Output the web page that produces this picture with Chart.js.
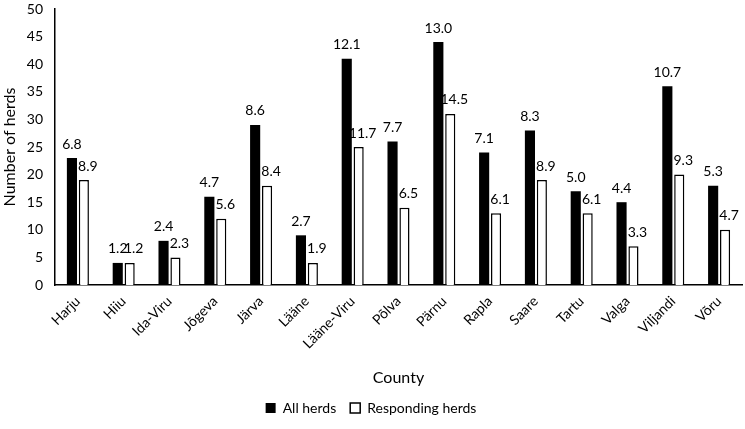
<!DOCTYPE html>
<html>
<head>
<meta charset="utf-8">
<script src="https://cdn.jsdelivr.net/npm/chart.js@4/dist/chart.umd.min.js"></script>
<style>
    html, body { margin: 0; padding: 0; background: #fff; }
    #wrap { width: 745px; height: 429px; }
</style>
</head>
<body>
<div id="wrap"><canvas id="chart"></canvas></div>
<script>
// counties and herd counts
const counties = ['Harju', 'Hiiu', 'Ida-Viru', 'Jõgeva', 'Järva', 'Lääne', 'Lääne-Viru', 'Põlva',
    'Pärnu', 'Rapla', 'Saare', 'Tartu', 'Valga', 'Viljandi', 'Võru'];
const allHerds = [23, 4, 8, 16, 29, 9, 41, 26, 44, 24, 28, 17, 15, 36, 18];
const respondingHerds = [19, 4, 5, 12, 18, 4, 25, 14, 31, 13, 19, 13, 7, 20, 10];
// percentages printed above the bars
const allHerdsPct = ['6.8', '1.2', '2.4', '4.7', '8.6', '2.7', '12.1', '7.7', '13.0', '7.1', '8.3', '5.0', '4.4', '10.7', '5.3'];
const respondingPct = ['8.9', '1.2', '2.3', '5.6', '8.4', '1.9', '11.7', '6.5', '14.5', '6.1', '8.9', '6.1', '3.3', '9.3', '4.7'];

const FONT = 'Lato';
const pctLabels = [allHerdsPct, respondingPct];

// draw the percentage above every bar
const barLabels = {
    id: 'barLabels',
    afterDatasetsDraw(chart) {
        const ctx = chart.ctx;
        ctx.save();
        ctx.font = '14px ' + FONT;
        ctx.fillStyle = '#000';
        ctx.textAlign = 'center';
        ctx.textBaseline = 'bottom';
        chart.data.datasets.forEach((ds, di) => {
            chart.getDatasetMeta(di).data.forEach((bar, i) => {
                ctx.fillText(pctLabels[di][i], bar.x + (di === 1 ? 4 : 0), bar.y - 7);
            });
        });
        ctx.restore();
    }
};

new Chart(document.getElementById('chart'), {
    type: 'bar',
    data: {
        labels: counties,
        datasets: [
            {
                label: 'All herds',
                data: allHerds,
                backgroundColor: '#000',
                borderColor: '#000',
                borderWidth: 0,
                categoryPercentage: 0.52,
                barPercentage: 0.85
            },
            {
                label: 'Responding herds',
                data: respondingHerds,
                backgroundColor: '#fff',
                borderColor: '#000',
                borderWidth: 1.5,
                categoryPercentage: 0.52,
                barPercentage: 0.85
            }
        ]
    },
    options: {
        responsive: true,
        maintainAspectRatio: false,
        animation: false,
        layout: { padding: { top: 9, right: 3, left: 0, bottom: 4 } },
        plugins: {
            tooltip: { enabled: false },
            legend: {
                position: 'bottom',
                labels: {
                    font: { family: FONT, size: 14 },
                    color: '#000',
                    boxWidth: 10,
                    boxHeight: 10,
                    padding: 14,
                    useBorderRadius: false
                }
            }
        },
        scales: {
            x: {
                grid: { display: false, drawTicks: false },
                border: { color: '#000', width: 1.5 },
                ticks: {
                    color: '#000',
                    font: { family: FONT, size: 14 },
                    minRotation: 45,
                    maxRotation: 45,
                    padding: 8
                },
                title: {
                    display: true,
                    text: 'County',
                    color: '#000',
                    font: { family: FONT, size: 16 },
                    padding: { top: 14, bottom: 0 }
                },
                afterFit(scale) { scale.height = 102; }
            },
            y: {
                min: 0,
                max: 50,
                grid: { display: false, drawTicks: false },
                border: { color: '#000', width: 1.5 },
                ticks: {
                    stepSize: 5,
                    color: '#000',
                    font: { family: FONT, size: 14 },
                    padding: 12
                },
                title: {
                    display: true,
                    text: 'Number of herds',
                    color: '#000',
                    font: { family: FONT, size: 16 },
                    padding: { top: 0, bottom: 4 }
                },
                afterFit(scale) {
                    scale.width = 55;
                    scale.paddingTop = 0;
                }
            }
        }
    },
    plugins: [barLabels]
});
</script>
</body>
</html>
